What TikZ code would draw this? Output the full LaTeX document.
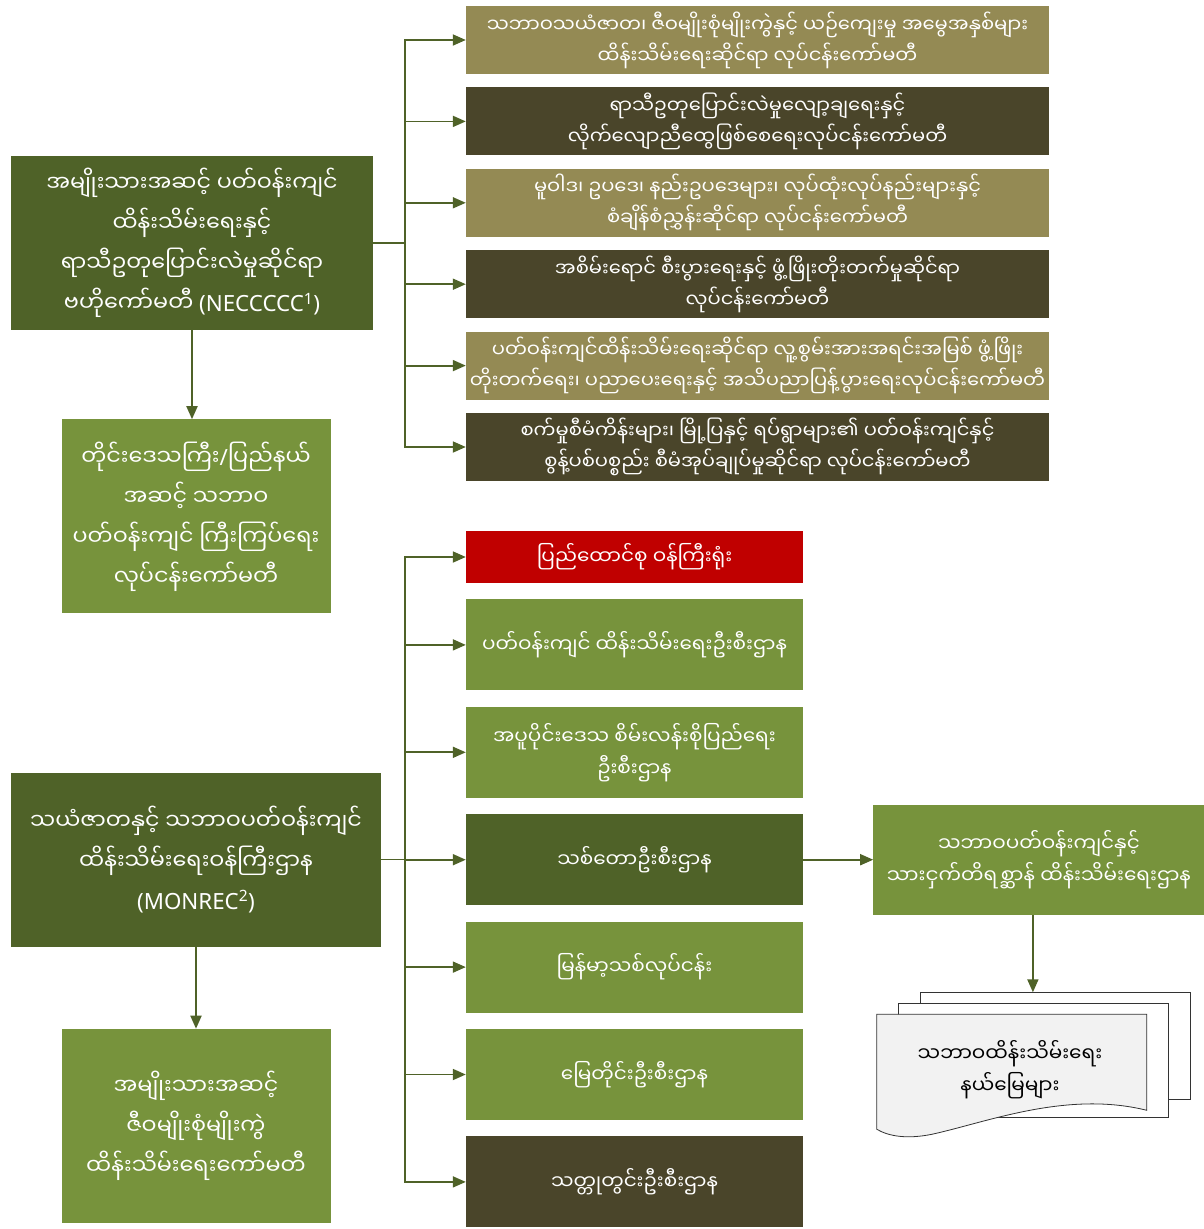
\documentclass[tikz,border=0pt]{standalone}
\usepackage{fontspec}
\setmainfont{Noto Sans}
\newfontfamily\mm[Script=Myanmar]{Noto Sans Myanmar UI}
\usetikzlibrary{positioning,arrows.meta}
\definecolor{khaki}{HTML}{948A54}
\definecolor{umber}{HTML}{4A452A}
\definecolor{olivedk}{HTML}{4F6228}
\definecolor{olivelt}{HTML}{77933C}
\definecolor{redbox}{HTML}{C00000}
\definecolor{pagegray}{HTML}{F2F2F2}

\begin{document}
\begin{tikzpicture}[x=1pt, y=-1pt,
    every node/.style={rectangle, align=center, text=white, inner sep=0pt},
    topbox/.style={minimum width=583pt, minimum height=68pt, font=\mm\fontsize{19.5}{31}\selectfont},
    bigbox/.style={fill=olivedk, minimum height=174pt, font=\mm\fontsize{22.3}{40}\selectfont},
    subbox/.style={fill=olivelt, minimum width=269pt, minimum height=194pt, font=\mm\fontsize{22.3}{40}\selectfont},
    unitbox/.style={minimum width=337pt, minimum height=91pt, font=\mm\fontsize{20}{32}\selectfont},
    arr/.style={draw=olivedk, line width=1.8pt, -{Triangle[length=13pt, width=11pt]}}]

    \useasboundingbox (0,0) rectangle (1204,1229);

    % committees under NECCCCC
    \node[topbox, fill=khaki] (cmt1) at (757.5,40) {သဘာဝသယံဇာတ၊ ဇီဝမျိုးစုံမျိုးကွဲနှင့် ယဉ်ကျေးမှု အမွေအနှစ်များ\\ထိန်းသိမ်းရေးဆိုင်ရာ လုပ်ငန်းကော်မတီ};
    \node[topbox, fill=umber, below=13pt of cmt1] (cmt2) {ရာသီဥတုပြောင်းလဲမှုလျော့ချရေးနှင့်\\လိုက်လျောညီထွေဖြစ်စေရေးလုပ်ငန်းကော်မတီ};
    \node[topbox, fill=khaki, below=13pt of cmt2] (cmt3) {မူဝါဒ၊ ဥပဒေ၊ နည်းဥပဒေများ၊ လုပ်ထုံးလုပ်နည်းများနှင့်\\စံချိန်စံညွှန်းဆိုင်ရာ လုပ်ငန်းကော်မတီ};
    \node[topbox, fill=umber, below=13pt of cmt3] (cmt4) {အစိမ်းရောင် စီးပွားရေးနှင့် ဖွံ့ဖြိုးတိုးတက်မှုဆိုင်ရာ\\လုပ်ငန်းကော်မတီ};
    \node[topbox, fill=khaki, below=13pt of cmt4] (cmt5) {ပတ်ဝန်းကျင်ထိန်းသိမ်းရေးဆိုင်ရာ လူ့စွမ်းအားအရင်းအမြစ် ဖွံ့ဖြိုး\\တိုးတက်ရေး၊ ပညာပေးရေးနှင့် အသိပညာပြန့်ပွားရေးလုပ်ငန်းကော်မတီ};
    \node[topbox, fill=umber, below=13pt of cmt5] (cmt6) {စက်မှုစီမံကိန်းများ၊ မြို့ပြနှင့် ရပ်ရွာများ၏ ပတ်ဝန်းကျင်နှင့်\\စွန့်ပစ်ပစ္စည်း စီမံအုပ်ချုပ်မှုဆိုင်ရာ လုပ်ငန်းကော်မတီ};

    % left column
    \node[bigbox, minimum width=362pt] (necc) at (192,243) {အမျိုးသားအဆင့် ပတ်ဝန်းကျင်\\ထိန်းသိမ်းရေးနှင့်\\ရာသီဥတုပြောင်းလဲမှုဆိုင်ရာ\\ဗဟိုကော်မတီ {\rmfamily(NECCCCC\textsuperscript{1})}};
    \node[subbox, below=89pt of necc, xshift=4pt] (region) {တိုင်းဒေသကြီး{\rmfamily/}ပြည်နယ်\\အဆင့် သဘာဝ\\ပတ်ဝန်းကျင် ကြီးကြပ်ရေး\\လုပ်ငန်းကော်မတီ};
    \node[bigbox, minimum width=370pt] (monrec) at (196,859.5) {သယံဇာတနှင့် သဘာဝပတ်ဝန်းကျင်\\ထိန်းသိမ်းရေးဝန်ကြီးဌာန\\{\rmfamily(MONREC\textsuperscript{2})}};
    \node[subbox, below=82pt of monrec] (bio) {အမျိုးသားအဆင့်\\ဇီဝမျိုးစုံမျိုးကွဲ\\ထိန်းသိမ်းရေးကော်မတီ};

    % departments under MONREC
    \node[unitbox, fill=redbox, minimum height=52pt] (office) at (634.5,557) {ပြည်ထောင်စု ဝန်ကြီးရုံး};
    \node[unitbox, fill=olivelt, below=16pt of office] (ecd) {ပတ်ဝန်းကျင် ထိန်းသိမ်းရေးဦးစီးဌာန};
    \node[unitbox, fill=olivelt, below=16pt of ecd] (dzgd) {အပူပိုင်းဒေသ စိမ်းလန်းစိုပြည်ရေး\\ဦးစီးဌာန};
    \node[unitbox, fill=olivedk, below=16pt of dzgd] (forest) {သစ်တောဦးစီးဌာန};
    \node[unitbox, fill=olivelt, below=16pt of forest] (mte) {မြန်မာ့သစ်လုပ်ငန်း};
    \node[unitbox, fill=olivelt, below=16pt of mte] (survey) {မြေတိုင်းဦးစီးဌာန};
    \node[unitbox, fill=umber, below=16pt of survey] (mines) {သတ္တုတွင်းဦးစီးဌာန};

    \node[fill=olivelt, minimum width=331pt, minimum height=110pt, font=\mm\fontsize{20}{32}\selectfont, right=70pt of forest] (wild) {သဘာဝပတ်ဝန်းကျင်နှင့်\\သားငှက်တိရစ္ဆာန် ထိန်းသိမ်းရေးဌာန};

    % stacked documents
    \node[minimum width=270pt, minimum height=115pt] (docs) at (1012,1072) {};
    \begin{scope}[shift={(docs.north west)}, draw=black!80, line width=0.8pt]
        \filldraw[fill=white] (44,-22) rectangle (314,85);
        \filldraw[fill=white] (22,-11) rectangle (292,103);
        \filldraw[fill=pagegray] (0,0) -- (270,0) -- (270,96)
            .. controls (190,76) and (110,108) .. (55,120)
            .. controls (30,125) and (12,122) .. (0,115) -- cycle;
        \coordinate (backtop) at (44,-22);
    \end{scope}
    \node[text=black, font=\mm\fontsize{20}{32}\selectfont] (docstxt) at (1010,1070) {သဘာဝထိန်းသိမ်းရေး\\နယ်မြေများ};

    % connectors
    \foreach \c in {cmt1,cmt2,cmt3,cmt4,cmt5,cmt6}
        \draw[arr] (necc.east) -- ++(32,0) |- (\c.west);
    \foreach \u in {office,ecd,dzgd,forest,mte,survey,mines}
        \draw[arr] (monrec.east) -- ++(24,0) |- (\u.west);
    \draw[arr] (necc) -- (necc |- region.north);
    \draw[arr] (monrec) -- (monrec |- bio.north);
    \draw[arr] (forest) -- (wild);
    \draw[arr] ([xshift=-6pt]wild.south) -- ([xshift=-6pt]wild.south |- backtop);
\end{tikzpicture}
\end{document}
